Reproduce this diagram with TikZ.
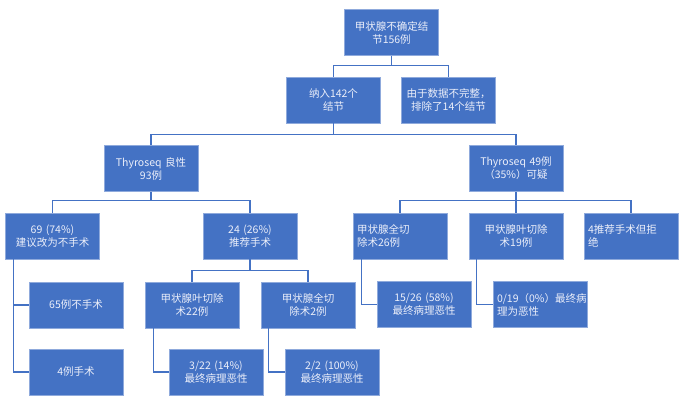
\documentclass[tikz,border=0pt]{standalone}
\usepackage{fontspec}
\usepackage{xcolor}
\usepackage{tikz}
\usetikzlibrary{shapes, arrows, positioning}
\newfontfamily\cjk{Noto Sans CJK SC}
\definecolor{boxblue}{HTML}{4472C4}
\definecolor{boxline}{HTML}{8FAADC}
\definecolor{boxtext}{RGB}{236,239,250}

\begin{document}
\begin{tikzpicture}[x=1pt,y=-1pt,
      box node/.style={rectangle,draw=boxline,fill=boxblue,line width=0.6pt,
        minimum width=94pt,minimum height=46pt,inner sep=0pt,
        text width=86pt,align=center,text=boxtext,
        font=\cjk\fontsize{10.5}{13}\selectfont},
      left node/.style={box node,align=left},
      link/.style={draw=boxblue,line width=1.3pt}]
    \useasboundingbox (0,0) rectangle (680,400);

        \node[box node] (1) at (391.5,32.5) {甲状腺不确定结\\节156例};
        \node[box node] (2) at (333.5,100) {纳入142个\\结节};
        \node[box node] (3) at (448.5,100) {由于数据不完整，\\排除了14个结节};
        \node[box node] (4) at (151,168.5) {Thyroseq 良性\\93例};
        \node[box node] (5) at (516,168.5) {Thyroseq 49例\\（35\%）可疑};
        \node[box node] (6) at (52.5,236) {69 (74\%)\\建议改为不手术};
        \node[box node] (7) at (250,236) {24 (26\%)\\推荐手术};
        \node[left node] (8) at (400,236) {甲状腺全切\\除术26例};
        \node[box node] (9) at (516,236) {甲状腺叶切除\\术19例};
        \node[left node] (10) at (631,236) {4推荐手术但拒\\绝};
        \node[box node] (11) at (76,305) {65例不手术};
        \node[box node] (12) at (76,372) {4例手术};
        \node[box node] (13) at (192,305) {甲状腺叶切除\\术22例};
        \node[box node] (14) at (308,305) {甲状腺全切\\除术2例};
        \node[box node] (15) at (216,372) {3/22 (14\%)\\最终病理恶性};
        \node[box node] (16) at (332,372) {2/2 (100\%)\\最终病理恶性};
        \node[box node] (17) at (424,304.5) {15/26 (58\%)\\最终病理恶性};
        \node[left node] (18) at (540,304.5) {0/19（0\%）最终病\\理为恶性};

        \path[link]
            (1.south) -- ++(0,10) -| (2.north)
            (1.south) -- ++(0,10) -| (3.north)
            (2.south) -- ++(0,11) -| (4.north)
            (2.south) -- ++(0,11) -| (5.north)
            (4.south) -- ++(0,9) -| (6.north)
            (4.south) -- ++(0,9) -| (7.north)
            (5.south) -- ++(0,9) -| (8.north)
            (5.south) -- ++(0,9) -| (9.north)
            (5.south) -- ++(0,9) -| (10.north)
            (7.south) -- ++(0,11) -| (13.north)
            (7.south) -- ++(0,11) -| (14.north)
            ([xshift=8pt]6.south west) |- (11.west)
            ([xshift=8pt]6.south west) |- (12.west)
            ([xshift=9pt]13.south west) |- (15.west)
            ([xshift=8pt]14.south west) |- (16.west)
            ([xshift=9pt]8.south west) |- (17.west)
            ([xshift=8pt]9.south west) |- (18.west)
        ;
    \end{tikzpicture}
\end{document}
